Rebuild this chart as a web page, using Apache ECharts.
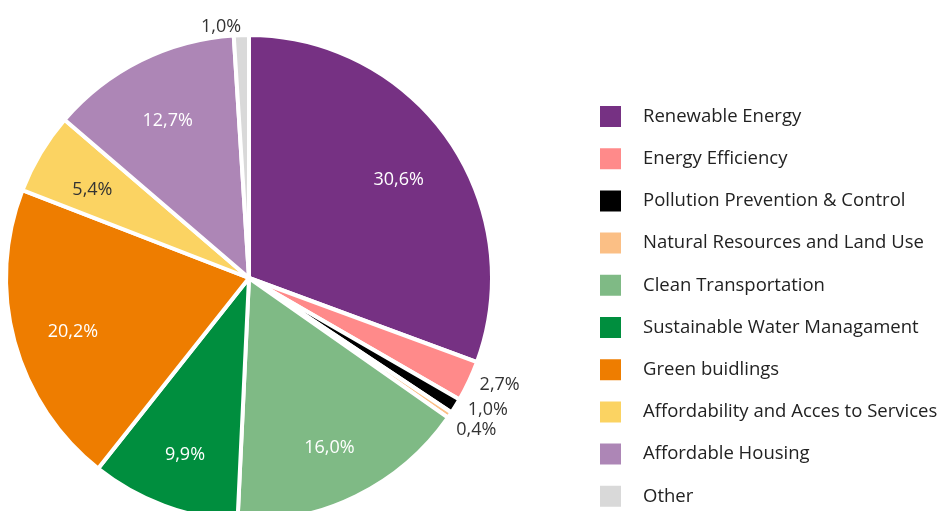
<!DOCTYPE html>
<html>
<head>
<meta charset="utf-8">
<script src="https://cdn.jsdelivr.net/npm/echarts@6/dist/echarts.min.js"></script>
<style>
  html, body { margin: 0; padding: 0; background: #fff; }
  #chart { width: 941px; height: 511px; }
</style>
</head>
<body>
<div id="chart"></div>
<script>
// categories and values (percent)
const categories = [
    'Renewable Energy',
    'Energy Efficiency',
    'Pollution Prevention & Control',
    'Natural Resources and Land Use',
    'Clean Transportation',
    'Sustainable Water Managament',
    'Green buidlings',
    'Affordability and Acces to Services',
    'Affordable Housing',
    'Other'
];
const values = [30.6, 2.7, 1.0, 0.4, 16.0, 9.9, 20.2, 5.4, 12.7, 1.0];
const colors = ['#763183', '#FF8A8A', '#000000', '#FBBF85', '#7FBA85',
    '#008E3E', '#EE7D00', '#FBD362', '#AD86B6', '#D9D9D9'];
// small slices get their label outside, dark labels on light slices
const outsideLabel = [false, true, true, true, false, false, false, false, false, true];
const darkLabel = [false, false, false, false, false, false, false, true, false, false];

const fmt = v => v.toFixed(1).replace('.', ',') + '%';
const font = '"Open Sans", "Noto Sans", sans-serif';

const chart = echarts.init(document.getElementById('chart'));

const mainData = categories.map((name, i) => ({
    name,
    value: values[i],
    itemStyle: { color: colors[i] },
    label: { show: outsideLabel[i] }
}));

const labelData = categories.map((name, i) => ({
    name,
    value: values[i],
    label: {
        show: !outsideLabel[i],
        color: darkLabel[i] ? '#333' : '#fff'
    }
}));

const option = {
    animation: false,
    legend: {
        type: 'plain',
        orient: 'vertical',
        left: 598,
        top: 104,
        height: 500,
        padding: 0,
        itemWidth: 23,
        itemHeight: 23,
        itemGap: 17.2,
        icon: 'rect',
        data: categories,
        selectedMode: false,
        textStyle: {
            fontFamily: font,
            fontSize: 18.5,
            lineHeight: 23,
            color: '#222',
            padding: [0, 0, 0, 16]
        }
    },
    series: [
        {
            type: 'pie',
            center: [249, 278],
            radius: [0, 243],
            startAngle: 90,
            clockwise: true,
            avoidLabelOverlap: true,
            itemStyle: { borderColor: '#fff', borderWidth: 4 },
            label: {
                position: 'outside',
                formatter: p => fmt(p.value),
                fontFamily: font,
                fontSize: 18,
                color: '#333',
                distanceToLabelLine: 0
            },
            labelLine: { show: false, length: 8, length2: 0 },
            emphasis: { disabled: true },
            data: mainData
        },
        {
            type: 'pie',
            center: [249, 284],
            radius: [118, 241],
            startAngle: 90,
            clockwise: true,
            silent: true,
            itemStyle: { color: 'rgba(0,0,0,0)' },
            label: {
                position: 'inside',
                formatter: p => fmt(p.value),
                fontFamily: font,
                fontSize: 18
            },
            labelLine: { show: false },
            emphasis: { disabled: true },
            data: labelData
        }
    ]
};

chart.setOption(option);
</script>
</body>
</html>
